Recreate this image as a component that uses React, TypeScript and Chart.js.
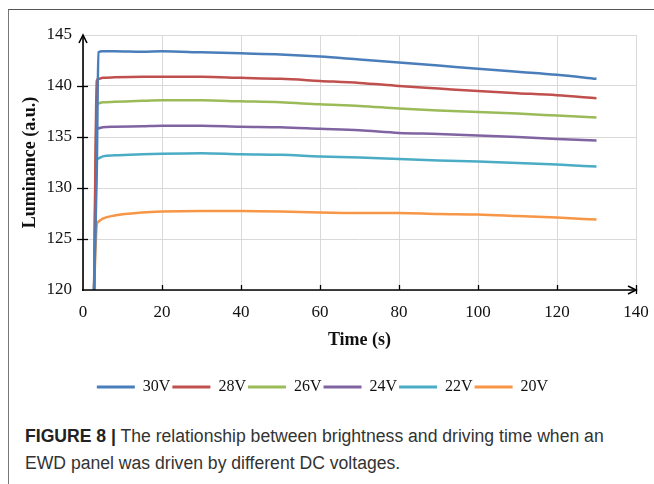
import React, { useEffect, useRef } from "react";
import { Chart, registerables } from "chart.js";

Chart.register(...registerables);

// ---- data ----
const times = [2.8, 3.5, 3.9, 5, 8, 15, 20, 30, 40, 50, 60, 70, 80, 90, 100, 110, 120, 130];
const v30 = [120, 132, 143.3, 143.4, 143.4, 143.35, 143.4, 143.3, 143.2, 143.1, 142.9, 142.6, 142.3, 142.0, 141.7, 141.4, 141.1, 140.7];
const v28 = [120, 140.5, 140.7, 140.8, 140.85, 140.9, 140.9, 140.9, 140.8, 140.7, 140.5, 140.3, 140.0, 139.75, 139.5, 139.3, 139.1, 138.8];
const v26 = [120, 138.1, 138.3, 138.4, 138.45, 138.55, 138.6, 138.6, 138.5, 138.4, 138.2, 138.05, 137.8, 137.6, 137.45, 137.3, 137.1, 136.9];
const v24 = [120, 135.7, 135.85, 135.95, 136.0, 136.05, 136.1, 136.1, 136.0, 135.95, 135.8, 135.65, 135.4, 135.3, 135.15, 135.0, 134.8, 134.65];
const v22 = [120, 132.7, 132.9, 133.1, 133.2, 133.3, 133.35, 133.4, 133.3, 133.25, 133.1, 133.0, 132.85, 132.7, 132.6, 132.45, 132.3, 132.1];
const v20 = [120, 126.4, 126.7, 127.0, 127.3, 127.6, 127.7, 127.75, 127.75, 127.7, 127.6, 127.55, 127.55, 127.45, 127.4, 127.25, 127.1, 126.9];

const seriesLabels = ["30V", "28V", "26V", "24V", "22V", "20V"];
const seriesValues = [v30, v28, v26, v24, v22, v20];
const seriesColors = ["#4A7EBB", "#C0504D", "#9BBB59", "#8064A2", "#4BACC6", "#F79646"];

const xMin = 0;
const xMax = 140;
const xStep = 20;
const yMin = 120;
const yMax = 145;
const yStep = 5;

const xTitle = "Time (s)";
const yTitle = "Luminance (a.u.)";
const captionBold = "FIGURE 8 |";
const captionText =
  " The relationship between brightness and driving time when an EWD panel was driven by different DC voltages.";

const serif = "'Liberation Serif', 'Times New Roman', serif";

const arrowAxes = {
  id: "arrowAxes",
  afterDraw(chart: any) {
    const { ctx, chartArea, scales } = chart;
    const { left, right, top, bottom } = chartArea;
    const xs = scales.x;
    const ys = scales.y;
    ctx.save();
    ctx.strokeStyle = "#000";
    ctx.lineWidth = 1.6;
    ctx.lineCap = "butt";
    // y axis
    ctx.beginPath();
    ctx.moveTo(left, bottom + 1);
    ctx.lineTo(left, top);
    ctx.stroke();
    ctx.beginPath();
    ctx.moveTo(left - 4, top + 8);
    ctx.lineTo(left, top);
    ctx.lineTo(left + 4, top + 8);
    ctx.stroke();
    // x axis
    ctx.beginPath();
    ctx.moveTo(left - 1, bottom);
    ctx.lineTo(right, bottom);
    ctx.stroke();
    ctx.beginPath();
    ctx.moveTo(right - 8, bottom - 4);
    ctx.lineTo(right, bottom);
    ctx.lineTo(right - 8, bottom + 4);
    ctx.stroke();
    ctx.lineWidth = 1.3;
    // x tick marks
    xs.ticks.forEach((t: any) => {
      if (t.value === xMin) return;
      const px = Math.round(xs.getPixelForValue(t.value)) + 0.5;
      ctx.beginPath();
      ctx.moveTo(px, bottom - 5);
      ctx.lineTo(px, bottom + (t.value === xMax ? 4 : 0));
      ctx.stroke();
    });
    // y tick marks
    ys.ticks.forEach((t: any) => {
      if (t.value === yMin || t.value === yMax) return;
      const py = Math.round(ys.getPixelForValue(t.value)) + 0.5;
      ctx.beginPath();
      ctx.moveTo(left - 6, py);
      ctx.lineTo(left + 5, py);
      ctx.stroke();
    });
    ctx.restore();
  },
};

function LuminanceChart() {
  const ref = useRef<HTMLCanvasElement | null>(null);
  useEffect(() => {
    if (!ref.current) return;
    const datasets = seriesLabels.map((label, i) => ({
      label,
      data: times.map((t, j) => ({ x: t, y: seriesValues[i][j] })),
      borderColor: seriesColors[i],
      backgroundColor: seriesColors[i],
      borderWidth: 2.5,
      pointRadius: 0,
      cubicInterpolationMode: "monotone" as const,
    }));
    const chart = new Chart(ref.current, {
      type: "line",
      data: { datasets },
      plugins: [arrowAxes],
      options: {
        animation: false,
        responsive: false,
        maintainAspectRatio: false,
        devicePixelRatio: 1,
        layout: { padding: { left: 9, right: 18, top: 35, bottom: 0 } },
        scales: {
          x: {
            type: "linear",
            min: xMin,
            max: xMax,
            border: { display: false },
            grid: {
              color: "#D9D9D9",
              lineWidth: 1,
              drawTicks: true,
              tickLength: 12,
              tickColor: "rgba(0,0,0,0)",
            },
            ticks: {
              stepSize: xStep,
              padding: 0,
              color: "#111",
              font: { family: serif, size: 17 },
              maxRotation: 0,
            },
            title: {
              display: true,
              text: xTitle,
              color: "#111",
              font: { family: serif, size: 18, weight: "bold" },
              padding: { top: 0, bottom: 26 },
            },
            afterFit: (s: any) => {
              s.height = 87;
            },
          },
          y: {
            type: "linear",
            min: yMin,
            max: yMax,
            border: { display: false },
            grid: { color: "#D9D9D9", lineWidth: 1, drawTicks: false },
            ticks: {
              stepSize: yStep,
              padding: 11,
              color: "#111",
              font: { family: serif, size: 17 },
            },
            title: {
              display: true,
              text: yTitle,
              color: "#111",
              font: { family: serif, size: 18, weight: "bold" },
              padding: { top: 11, bottom: 0 },
            },
            afterFit: (s: any) => {
              s.width = 74;
            },
          },
        },
        plugins: {
          legend: {
            position: "bottom",
            labels: {
              boxWidth: 38,
              boxHeight: 3,
              padding: 2,
              color: "#111",
              font: { family: serif, size: 16 },
              generateLabels: (c: any) =>
                Chart.defaults.plugins.legend.labels
                  .generateLabels(c)
                  .map((l: any) => ({ ...l, lineWidth: 0 })),
            },
          },
          tooltip: { enabled: false },
        },
      },
    });
    return () => chart.destroy();
  }, []);
  return (
    <canvas
      ref={ref}
      width={654}
      height={405}
      style={{ position: "absolute", left: 0, top: 0, width: 654, height: 405 }}
    />
  );
}

export default function App() {
  return (
    <div
      style={{
        position: "absolute",
        left: 0,
        top: 0,
        width: 654,
        height: 484,
        overflow: "hidden",
        background: "#fff",
      }}
    >
      <div
        style={{
          position: "absolute",
          left: 8,
          top: 9,
          width: 700,
          height: 500,
          borderTop: "1px solid #555",
          borderLeft: "1px solid #777",
        }}
      />
      <LuminanceChart />
      <div
        style={{
          position: "absolute",
          left: 25,
          top: 423,
          width: 604,
          fontFamily: "'Liberation Sans', Arial, sans-serif",
          fontSize: 17.6,
          lineHeight: "27px",
          color: "#333",
        }}
      >
        <b style={{ color: "#222" }}>{captionBold}</b>
        {captionText}
      </div>
    </div>
  );
}
